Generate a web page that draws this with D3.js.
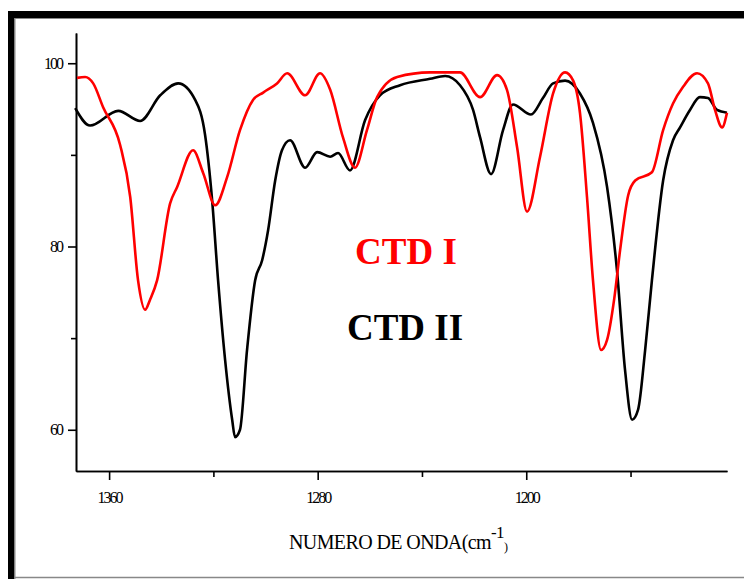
<!DOCTYPE html>
<html>
<head>
<meta charset="utf-8">
<script src="https://cdn.jsdelivr.net/npm/d3@7"></script>
<style>
  body { margin: 0; background: #fff; }
  svg { display: block; }
  .tick text { font-family: "Liberation Serif", "Times New Roman", serif; font-size: 16px; letter-spacing: -2px; fill: #000; }
</style>
</head>
<body>
<div id="chart"></div>
<script>
(function() {
  var width = 744,
      height = 579;

  // wavenumbers (cm-1) and transmittance (%)
  var ctd2Wave = [1373, 1367.3, 1356.5, 1348.1, 1340.4, 1333.5, 1327.0, 1323.2, 1320.5, 1318.2,
    1315.5, 1312.8, 1311.7, 1309.8, 1307.1, 1304.0, 1301.3, 1299.0, 1296.3, 1293.7,
    1290.6, 1284.8, 1280.2, 1275.2, 1272.2, 1267.6, 1261.8, 1256.1, 1248.4, 1236.9,
    1231.1, 1225.4, 1220.4, 1217.7, 1213.5, 1208.9, 1205.1, 1198.2, 1193.6, 1189.7,
    1185.1, 1179.4, 1174.4, 1169.0, 1165.2, 1162.1, 1159.4, 1157.1, 1154.4, 1151.8,
    1147.5, 1143.7, 1141.0, 1137.2, 1133.4, 1130.3, 1126.8, 1123.0]
  var ctd2Trans = [95.1, 93.2, 94.8, 93.7, 96.5, 97.8, 96.0, 92.2, 85.1, 76.3,
    67.6, 61.1, 59.2, 60.0, 68.7, 76.3, 78.5, 81.8, 87.2, 90.5,
    91.6, 88.6, 90.3, 89.8, 90.2, 88.3, 93.8, 96.5, 97.6, 98.3,
    98.6, 97.6, 94.9, 91.9, 87.9, 92.7, 95.5, 94.4, 96.2, 97.8,
    98.1, 96.7, 93.5, 86.5, 77.4, 66.5, 61.1, 62.2, 68.7, 76.3,
    87.2, 91.6, 93.0, 94.9, 96.3, 96.2, 94.9, 94.6]

  var ctd1Wave = [1372.3, 1369.2, 1366.1, 1362.3, 1355.8, 1351.9, 1348.9, 1346.2, 1344.3, 1341.6,
    1336.6, 1333.9, 1327.8, 1323.9, 1319.3, 1314.7, 1309.8, 1304.8, 1300.9, 1295.6,
    1291.7, 1284.8, 1279.1, 1275.2, 1270.3, 1265.7, 1261.1, 1257.2, 1249.5, 1236.9,
    1225.4, 1217.7, 1211.2, 1207.4, 1203.5, 1199.7, 1194.7, 1189.7, 1185.1, 1182.0,
    1179.4, 1176.7, 1174.4, 1171.3, 1169.0, 1166.3, 1164.0, 1160.9, 1158.2, 1151.8,
    1147.5, 1143.7, 1139.9, 1134.5, 1130.3, 1127.6, 1124.9, 1123.0]
  var ctd1Trans = [98.4, 98.5, 97.8, 95.2, 91.1, 85.4, 76.3, 73.1, 74.2, 76.3,
    84.7, 86.5, 90.5, 88.0, 84.5, 87.6, 92.7, 96.0, 96.8, 97.8,
    98.9, 96.5, 98.9, 97.1, 91.9, 88.6, 92.7, 96.3, 98.5, 99.0,
    99.0, 96.3, 98.7, 97.1, 90.8, 83.8, 89.8, 96.7, 99.0, 98.1,
    94.6, 85.4, 76.3, 68.7, 69.8, 74.2, 79.6, 85.6, 87.2, 88.1,
    92.7, 95.6, 97.4, 98.9, 97.8, 94.9, 93.0, 94.6]

  var xMajor = [1360, 1280, 1200]
  var xMinor = [1320, 1240, 1160]
  var yMajor = [60, 80, 100]
  var yMinor = [70, 90]

  var svg = d3.select("#chart")
    .append("svg")
    .attr("width", width)
    .attr("height", height)

  // outer frame (thick black top/left, thin grey edges)
  svg.append("rect").attr("x", 8).attr("y", 11).attr("width", width - 8).attr("height", 7).attr("fill", "#000")
  svg.append("rect").attr("x", 8).attr("y", 11).attr("width", 6.5).attr("height", height - 11).attr("fill", "#000")
  svg.append("line").attr("x1", 15).attr("x2", width).attr("y1", 18.5).attr("y2", 18.5)
    .attr("stroke", "#888").attr("stroke-width", 1)
  svg.append("line").attr("x1", 15).attr("x2", 15).attr("y1", 18).attr("y2", height)
    .attr("stroke", "#888").attr("stroke-width", 1)
  svg.append("line").attr("x1", 15).attr("x2", width).attr("y1", 577.5).attr("y2", 577.5)
    .attr("stroke", "#888").attr("stroke-width", 1.5)

  var left = 76, right = 727, top = 33, bottom = 471

  var xPositionScale = d3.scaleLinear().domain([1372.7, 1123]).range([left, right])
  var yPositionScale = d3.scaleLinear().domain([103.3, 55.5]).range([top, bottom])

  // axes
  svg.append("g")
    .attr("transform", "translate(0," + bottom + ")")
    .call(d3.axisBottom(xPositionScale).tickValues(xMinor).tickSize(6).tickSizeOuter(0).tickFormat(""))
  svg.append("g")
    .attr("transform", "translate(0," + bottom + ")")
    .call(d3.axisBottom(xPositionScale).tickValues(xMajor).tickSize(9).tickSizeOuter(0).tickPadding(12).tickFormat(d3.format("d")))

  svg.append("g")
    .attr("transform", "translate(" + left + ",0)")
    .call(d3.axisLeft(yPositionScale).tickValues(yMinor).tickSize(5).tickSizeOuter(0).tickFormat(""))
  svg.append("g")
    .attr("transform", "translate(" + left + ",0)")
    .call(d3.axisLeft(yPositionScale).tickValues(yMajor).tickSize(8).tickSizeOuter(0).tickPadding(6).tickFormat(d3.format("d")))

  svg.selectAll(".domain").attr("stroke", "#000").attr("stroke-width", 1.6)
  svg.selectAll(".tick line").attr("stroke", "#000").attr("stroke-width", 1.6)

  var line = d3.line()
    .x(function(d) { return xPositionScale(d[0]) })
    .y(function(d) { return yPositionScale(d[1]) })
    .curve(d3.curveMonotoneX)

  var ctd2 = d3.zip(ctd2Wave, ctd2Trans)
  var ctd1 = d3.zip(ctd1Wave, ctd1Trans)

  svg.append("path")
    .datum(ctd2)
    .attr("fill", "none")
    .attr("stroke", "#000")
    .attr("stroke-width", 2.6)
    .attr("d", line)

  svg.append("path")
    .datum(ctd1)
    .attr("fill", "none")
    .attr("stroke", "#ff0000")
    .attr("stroke-width", 2.6)
    .attr("d", line)

  // labels
  svg.append("text")
    .attr("x", 406)
    .attr("y", 264)
    .attr("text-anchor", "middle")
    .style("font-family", "'Liberation Serif', 'Times New Roman', serif")
    .style("font-weight", "bold")
    .style("font-size", "37px")
    .attr("fill", "#ff0000")
    .text("CTD I")

  svg.append("text")
    .attr("x", 405)
    .attr("y", 340)
    .attr("text-anchor", "middle")
    .style("font-family", "'Liberation Serif', 'Times New Roman', serif")
    .style("font-weight", "bold")
    .style("font-size", "37px")
    .attr("fill", "#000")
    .text("CTD II")

  var title = svg.append("text")
    .attr("x", 289)
    .attr("y", 549)
    .style("font-family", "'Liberation Serif', 'Times New Roman', serif")
    .style("font-size", "20px")
    .style("letter-spacing", "-0.6px")
    .attr("fill", "#000")
  title.append("tspan").text("NUMERO DE ONDA(cm")
  title.append("tspan").attr("dy", -11).style("font-size", "17px").text("-1")
  title.append("tspan").attr("dy", 13).style("font-size", "12px").text(")")

})();
</script>
</body>
</html>
